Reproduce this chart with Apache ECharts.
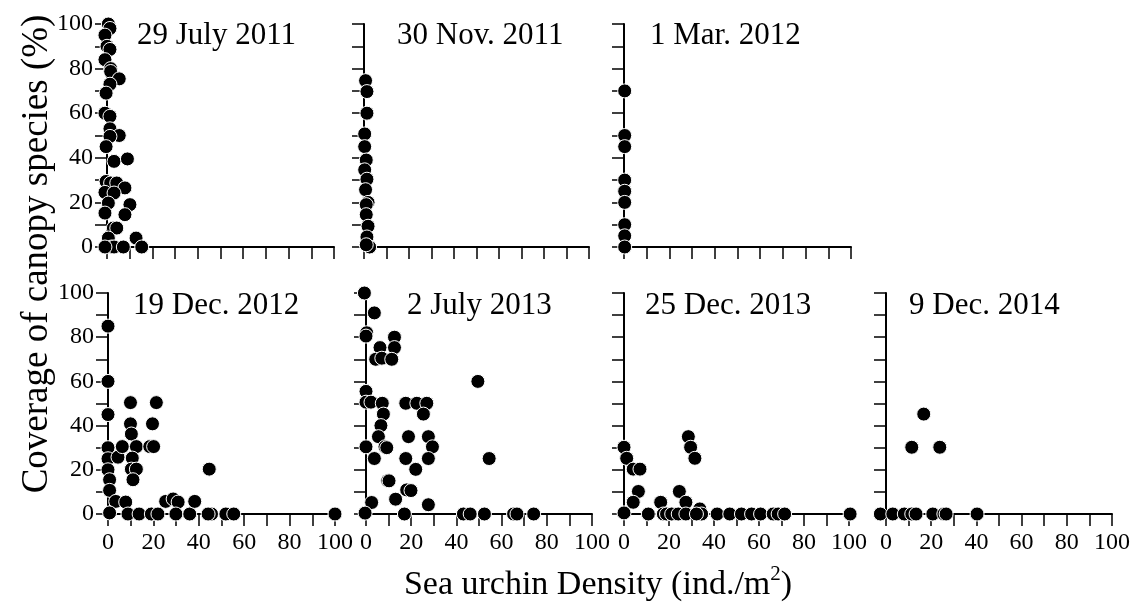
<!DOCTYPE html>
<html>
<head>
<meta charset="utf-8">
<script src="https://cdn.jsdelivr.net/npm/echarts@6/dist/echarts.min.js"></script>
<style>
html,body{margin:0;padding:0;background:#fff;}
#chart{width:1137px;height:605px;}
</style>
</head>
<body>
<div id="chart"></div>
<script>
// ---- Data (x = sea urchin density ind./m2, y = canopy coverage %) ----
const panelTitles = ['29 July 2011','30 Nov. 2011','1 Mar. 2012','19 Dec. 2012','2 July 2013','25 Dec. 2013','9 Dec. 2014'];
const xTicks = [0,20,40,60,80,100];
const yTicks = [0,20,40,60,80,100];

const jul2011 = [[0.6,100],[1.3,98],[-0.9,95],[0,90],[1.3,88.6],[-0.9,84],[1.6,80],[1.6,78.7],[5.4,75.4],[1.3,73],[-0.4,69],
  [-0.9,60],[1.3,58.6],[1.3,53],[5.4,50],[1.3,49.6],[-0.4,45],[3.1,38.4],[9,39.5],[-0.4,29.4],[1.6,28.7],[4.3,28.7],
  [7.9,26.5],[-0.9,24.5],[3.1,24.2],[0.6,19.7],[10.1,19],[7.9,14.5],[-0.9,15.2],[2.8,8.5],[4.3,8.5],[0.6,4],[12.8,4],
  [2,0],[3.1,0],[7.2,0],[15.3,0],[-0.9,0]];
const nov2011 = [[0.7,74.6],[1.3,69.7],[1.3,60],[0.3,50.7],[0.3,45],[1,39],[0.3,34.6],[1.3,30.4],[0.7,25.7],[1.8,20],
  [1,19],[1,14.5],[1.8,9.3],[1.3,4.5],[2.5,0],[1,1]];
const mar2012 = [[0.3,70],[0.3,50],[0.3,45],[0.3,30],[0.3,25],[0.3,20],[0.3,10],[0.3,5],[0.3,0]];
const dec2012 = [[0,85],[0,60],[0,45],[0,30],[0,25],[0,20],[0.7,15.5],[0.7,10.7],[3.4,5.7],[0.7,0.5],[4.4,25.7],[6.3,30.5],
  [7.8,5.4],[8.8,0],[9.9,50.4],[9.9,40.8],[10.3,36.2],[12.5,30.5],[10.7,25.3],[10.3,20.3],[12.5,20.3],[11,15.5],[13.7,0],
  [18.4,30.5],[20.1,30.5],[19.6,40.8],[21.3,50.4],[19.1,0],[22,0],[25.4,5.7],[28.7,6.8],[30.9,5.4],[29.9,0],[36,0],
  [38.2,5.7],[44.6,20.3],[45.6,0],[44.1,0],[51.9,0],[55.4,0],[100,0]];
const jul2013 = [[-0.7,100],[3.7,91],[0.3,82],[0,80.5],[6.2,75.3],[12.6,80],[12.6,75.3],[4.3,70],[7,70.5],[11.4,70],
  [0,55.5],[0,50.6],[2.2,50.6],[7.2,50.1],[7.7,45.2],[6.6,40],[5.5,35],[0,30.4],[8.4,30.4],[9.2,30],[3.7,25.1],[2.5,5.2],
  [-0.4,0.4],[9.6,15.1],[10.2,15],[13.1,6.7],[17.6,50.1],[18.8,35],[17.6,25.1],[18,10.9],[19.9,10.6],[17,0],[22,20.2],
  [22.5,50.1],[26.9,50.1],[25.4,45.2],[27.6,35],[29.4,30.4],[27.6,25.1],[27.6,4.2],[49.5,60],[54.5,25.1],[43.1,0],
  [46.1,0],[52.4,0],[65.3,0],[66.8,0],[74.2,0]];
const dec2013 = [[0,30.2],[1.2,25.2],[4.1,20.3],[7.1,20.3],[6.4,10.2],[4.1,5.3],[0,0.5],[10.8,0],[16.3,5.3],[17.5,0],
  [18.9,0],[21.2,0],[24.6,10.2],[27.5,5.3],[24.1,0],[27.5,0],[28.6,35],[29.6,30.2],[31.5,25.2],[33.7,2.3],[34.5,0],
  [32.2,0],[41.4,0],[47,0],[52.2,0],[56.7,0],[60.7,0],[66.3,0],[68.5,0],[71.4,0],[100.5,0]];
const dec2014 = [[-2.5,0],[3,0],[8.1,0],[11.4,0],[13.3,0],[20.7,0],[25.6,0],[26.6,0],[40.3,0],[11.4,30.2],[16.7,45.2],[23.8,30.2]];

const panelData = [jul2011, nov2011, mar2012, dec2012, jul2013, dec2013, dec2014];

// ---- Layout ----
const FONT = '"Liberation Serif", "Times New Roman", serif';
const grids = [
  {left:107, top:24, width:227, height:223},
  {left:364, top:24, width:225, height:223},
  {left:624, top:24, width:227, height:223},
  {left:108, top:293, width:227, height:221},
  {left:366, top:293, width:226, height:221},
  {left:624, top:293, width:225, height:221},
  {left:886, top:293, width:226, height:221}
];
const titlePos = [[137,37],[397,37],[650,37],[133,307],[407,307],[645,307],[909,307]];
const showYLabels = [true,false,false,true,false,false,false];
const showXLabels = [false,false,false,true,true,true,true];

const axisLineStyle = {color:'#000', width:2};
const tickStyle = {color:'#000', width:1.5};
const labelFmt = ticks => v => (ticks.indexOf(v) >= 0 ? String(v) : '');

const option = {
  animation:false,
  backgroundColor:'#fff',
  grid: grids.map(g => Object.assign({containLabel:false}, g)),
  title: panelTitles.map((t,i) => ({
    text:t, left:titlePos[i][0], top:titlePos[i][1]-17, padding:0,
    textStyle:{fontFamily:FONT, fontSize:31, fontWeight:'normal', color:'#000'}
  })),
  xAxis: grids.map((g,i) => ({
    type:'value', gridIndex:i, min:0, max:100, interval:10,
    axisLine:{show:true, onZero:false, lineStyle:axisLineStyle},
    axisTick:{show:true, inside:false, length:12, lineStyle:tickStyle},
    splitLine:{show:false},
    axisLabel:{show:showXLabels[i], formatter:labelFmt(xTicks), fontFamily:FONT, fontSize:24, color:'#000', margin:17,
      showMinLabel:true, showMaxLabel:true}
  })),
  yAxis: grids.map((g,i) => ({
    type:'value', gridIndex:i, min:0, max:100, interval:10,
    axisLine:{show:true, onZero:false, lineStyle:axisLineStyle},
    axisTick:{show:true, inside:false, length:12, lineStyle:tickStyle},
    splitLine:{show:false},
    axisLabel:{show:showYLabels[i], formatter:labelFmt(yTicks), fontFamily:FONT, fontSize:24, color:'#000', margin:14,
      showMinLabel:true, showMaxLabel:true}
  })),
  series: panelData.map((d,i) => ({
    type:'scatter', xAxisIndex:i, yAxisIndex:i, data:d, clip:false,
    symbol:'circle', symbolSize:14,
    itemStyle:{color:'#000', borderColor:'#fff', borderWidth:1, opacity:1},
    emphasis:{disabled:true}
  })),
  graphic: [
    {type:'text', x:37, y:254, rotation:Math.PI/2,
      style:{text:'Coverage of canopy species (%)', font:'37px ' + FONT, fill:'#000', textAlign:'center', textVerticalAlign:'middle'}},
    {type:'text', x:598, y:583,
      style:{text:'{a|Sea urchin Density (ind./m}{s|2}{a|)}', textAlign:'center', textVerticalAlign:'middle', fill:'#000',
        rich:{a:{fontFamily:FONT, fontSize:34, lineHeight:38, verticalAlign:'bottom'},
              s:{fontFamily:FONT, fontSize:21, lineHeight:38, verticalAlign:'top', padding:[0,0,12,0]}}}}
  ]
};

const chart = echarts.init(document.getElementById('chart'), null, {renderer:'canvas'});
chart.setOption(option);
</script>
</body>
</html>
